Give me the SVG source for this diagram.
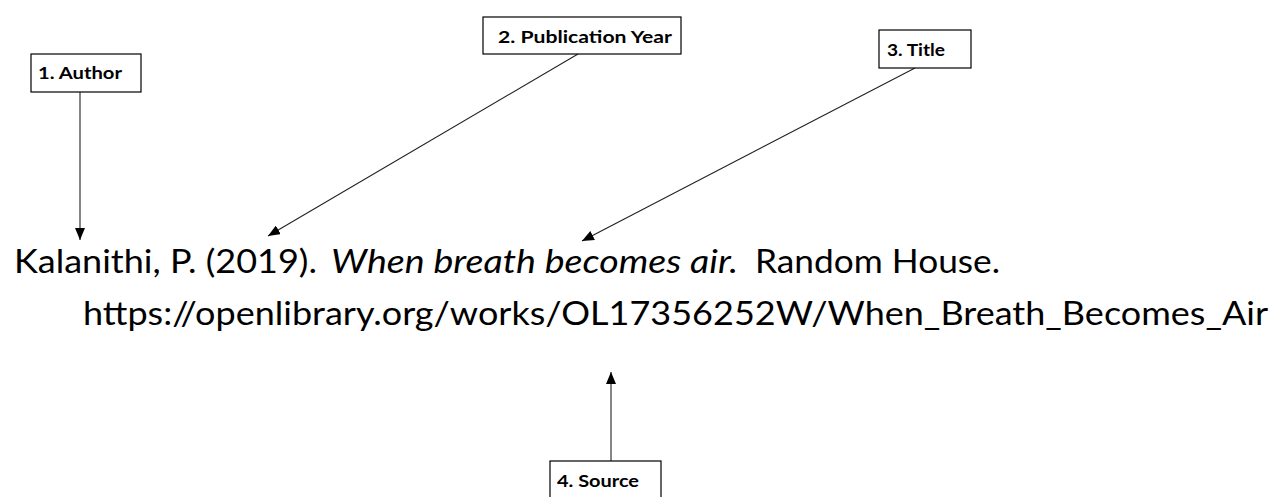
<svg xmlns="http://www.w3.org/2000/svg" width="1277" height="497" viewBox="0 0 1277 497">
<defs>
<style>
.box{fill:#fff;stroke:#000;stroke-width:1.2}
.lbl{font-family:Lato,"Open Sans",sans-serif;font-weight:bold;font-size:17px;fill:#000}
.cit{font-family:Lato,"Open Sans",sans-serif;font-size:33px;fill:#000}
.conn{stroke:#222;stroke-width:1.1;fill:none;marker-end:url(#ah)}
</style>
<marker id="ah" markerUnits="userSpaceOnUse" markerWidth="13" markerHeight="10" refX="12" refY="5" orient="auto">
<path d="M0,0 L12,5 L0,10 Z" fill="#000"/>
</marker>
</defs>
<rect width="1277" height="497" fill="#fff"/>
<g id="connectors">
<line class="conn" x1="80" y1="92" x2="80" y2="240"/>
<line class="conn" x1="578" y1="54" x2="268" y2="236"/>
<line class="conn" x1="915" y1="68" x2="582" y2="241"/>
<line class="conn" x1="611" y1="461" x2="611" y2="372"/>
</g>
<g id="author">
<rect class="box" x="31" y="54" width="110" height="38"/>
<text class="lbl" x="38" y="79" textLength="84" lengthAdjust="spacingAndGlyphs">1. Author</text>
</g>
<g id="pubyear">
<rect class="box" x="483" y="17" width="198" height="37"/>
<text class="lbl" x="498" y="43" textLength="174" lengthAdjust="spacingAndGlyphs">2. Publication Year</text>
</g>
<g id="title">
<rect class="box" x="879" y="30" width="92" height="38"/>
<text class="lbl" x="887" y="56" textLength="58" lengthAdjust="spacingAndGlyphs">3. Title</text>
</g>
<g id="source">
<rect class="box" x="550" y="461" width="111" height="42"/>
<text class="lbl" x="557" y="487" textLength="82" lengthAdjust="spacingAndGlyphs">4. Source</text>
</g>
<g id="citation">
<text class="cit" x="14" y="273" textLength="303" lengthAdjust="spacingAndGlyphs">Kalanithi, P. (2019).</text>
<text class="cit" x="331" y="273" font-style="italic" textLength="407" lengthAdjust="spacingAndGlyphs">When breath becomes air.</text>
<text class="cit" x="755" y="273" textLength="245" lengthAdjust="spacingAndGlyphs">Random House.</text>
<text class="cit" x="83" y="325" textLength="1185" lengthAdjust="spacingAndGlyphs">https://openlibrary.org/works/OL17356252W/When_Breath_Becomes_Air</text>
</g>
</svg>
